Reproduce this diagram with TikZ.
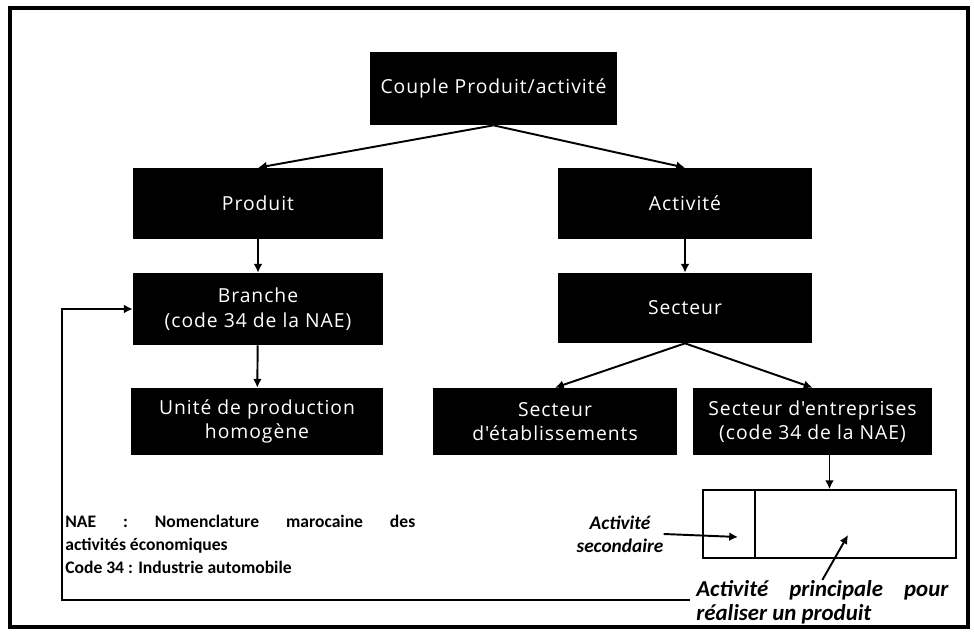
\documentclass[tikz,border=0pt]{standalone}
\usepackage{fontspec}
\setmainfont{Carlito}
\newfontfamily\boitefont[LetterSpace=5]{Open Sans}
\usetikzlibrary{arrows.meta}
\usetikzlibrary{calc}

\tikzset{
	bloc/.style={fill=black, text=white, align=center, inner sep=0pt,
		minimum width=5cm, minimum height=1.42cm,
		font=\boitefont\fontsize{11}{14}\selectfont},
	fleche/.style={line width=1.1pt, -{Latex[length=5pt,width=5pt]}},
	cellule/.style={draw, line width=1pt, inner sep=0pt, minimum height=1.36cm},
	note/.style={font=\bfseries\itshape\fontsize{11}{13}\selectfont, inner sep=0pt}
}

\begin{document}
\begin{tikzpicture}[x=0.02cm, y=-0.02cm]
	% page 974 x 635, 1 unit = 1 px
	\useasboundingbox (0,0) rectangle (974,635);
	\draw[line width=2.4pt] (10,8) rectangle (968,627);
	% blocs
	\node[bloc, minimum width=4.94cm, minimum height=1.46cm] (couple) at (493.5,88.5) {Couple Produit/activité};
	\node[bloc] (produit) at (258,203.5) {Produit};
	\node[bloc, minimum width=5.08cm] (activite) at (685,203.5) {Activité};
	\node[bloc, minimum height=1.44cm] (branche) at (258,309) {Branche\\(code 34 de la NAE)};
	\node[bloc, minimum width=5.08cm, minimum height=1.4cm] (secteur) at (685,308) {Secteur};
	\node[bloc, minimum width=5.04cm, minimum height=1.34cm] (unite) at (257,421.5) {Unité de production\\homogène};
	\node[bloc, minimum width=4.88cm, minimum height=1.34cm] (etab) at (555,421.5) {Secteur\\d'établissements};
	\node[bloc, minimum width=4.78cm, minimum height=1.34cm] (entr) at (812.5,421.5) {Secteur d'entreprises\\(code 34 de la NAE)};
	% cellules du bas
	\node[cellule, minimum width=1.04cm] (sec) at (729,524) {};
	\node[cellule, minimum width=4.02cm] (princ) at (855.5,524) {};
	\coordinate (haut) at ($(sec.north west)!.5!(princ.north east)$);
	% textes
	\node[note, align=center] (secondaire) at (620,534) {Activité\\secondaire};
	\node[note, font=\bfseries\itshape\fontsize{13}{13.5}\selectfont, text width=5.04cm, align=justify, anchor=north west] (principale) at (696,580) {Activité principale pour\linebreak réaliser un produit};
	\node[font=\bfseries\fontsize{10}{13}\selectfont, inner sep=0pt, text width=7cm, align=justify, anchor=north west] (legende) at (65,515) {NAE : Nomenclature marocaine des\linebreak activités économiques\\Code 34 : Industrie automobile};
	% fleches
	\draw[fleche] (couple.south) -- (produit.north);
	\draw[fleche] (couple.south) -- (activite.north);
	\draw[fleche] (produit) -- (branche);
	\draw[fleche] (branche) -- (unite);
	\draw[fleche] (activite) -- (secteur);
	\draw[fleche] (secteur.south) -- (etab.north);
	\draw[fleche] (secteur.south) -- (entr.north);
	\draw[fleche] (entr.south -| haut) -- (haut);
	\coordinate (pointe sec) at (738,537);
	\draw[fleche] (secondaire.east) -- (pointe sec);
	\coordinate (pointe princ) at (848,535);
	\draw[fleche] (principale.north) -- (pointe princ);
	% retour vers la branche
	\coordinate (retour) at (690,600);
	\draw[fleche] (retour) -- (62,600) |- (branche.west);
\end{tikzpicture}
\end{document}
